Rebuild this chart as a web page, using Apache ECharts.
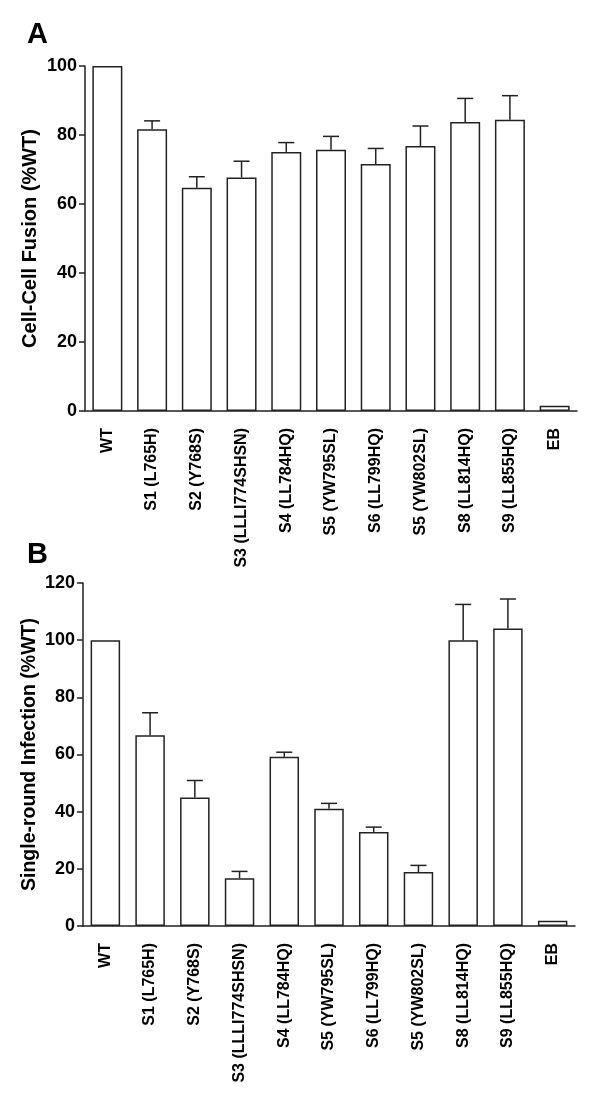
<!DOCTYPE html>
<html>
<head>
<meta charset="utf-8">
<script src="https://cdn.jsdelivr.net/npm/echarts@6/dist/echarts.min.js"></script>
<style>
html,body{margin:0;padding:0;background:#fff;}
#chart{width:600px;height:1111px;}
</style>
</head>
<body>
<div id="chart"></div>
<script>
const categories = ['WT','S1 (L765H)','S2 (Y768S)','S3 (LLLI774SHSN)','S4 (LL784HQ)','S5 (YW795SL)','S6 (LL799HQ)','S5 (YW802SL)','S8 (LL814HQ)','S9 (LL855HQ)','EB'];
const fusionMean = [100, 81.7, 64.7, 67.7, 75.1, 75.7, 71.6, 76.8, 83.8, 84.4, 1.5];
const fusionErrTop = [null, 84.1, 67.9, 72.4, 77.8, 79.6, 76.1, 82.6, 90.6, 91.4, null];
const infectionMean = [100, 66.7, 45.0, 16.7, 59.2, 41.0, 32.9, 18.9, 100, 104.1, 1.8];
const infectionErrTop = [null, 74.6, 50.9, 19.1, 60.8, 42.9, 34.6, 21.2, 112.5, 114.4, null];
const fusionTicks = {min: 0, max: 100, interval: 20};
const infectionTicks = {min: 0, max: 120, interval: 20};

const FONT = '"Liberation Sans", Arial, Helvetica, sans-serif';
const INK = '#222';

function errorSeries(idx, means, tops) {
  const data = categories.map((c, i) => [i, means[i], tops[i]]).filter(d => d[2] != null);
  return {
    type: 'custom',
    xAxisIndex: idx, yAxisIndex: idx,
    z: 1,
    data: data,
    renderItem: function (params, api) {
      const x = api.value(0);
      const lo = api.coord([x, api.value(1)]);
      const hi = api.coord([x, api.value(2)]);
      const hw = 8;
      return {
        type: 'group',
        children: [
          {type: 'line', shape: {x1: lo[0], y1: lo[1], x2: hi[0], y2: hi[1]}, style: {stroke: INK, lineWidth: 1.5}},
          {type: 'line', shape: {x1: hi[0] - hw, y1: hi[1], x2: hi[0] + hw, y2: hi[1]}, style: {stroke: INK, lineWidth: 1.5}}
        ]
      };
    }
  };
}

function xAxis(idx) {
  return {
    type: 'category', gridIndex: idx, data: categories,
    axisLine: {lineStyle: {color: INK, width: 1.5}},
    axisTick: {alignWithLabel: true, length: 7, lineStyle: {color: INK, width: 1.5}},
    axisLabel: {rotate: 90, margin: 17, color: '#000', fontFamily: FONT, fontWeight: 'bold', fontSize: 16, interval: 0}
  };
}
function yAxis(idx, ticks, name, gap, nameSize) {
  return {
    type: 'value', gridIndex: idx, min: ticks.min, max: ticks.max, interval: ticks.interval,
    name: name, nameLocation: 'middle', nameRotate: 90, nameGap: gap, nameMoveOverlap: false,
    nameTextStyle: {color: '#000', fontFamily: FONT, fontWeight: 'bold', fontSize: nameSize},
    splitLine: {show: false},
    axisLine: {show: true, lineStyle: {color: INK, width: 1.5}},
    axisTick: {show: true, length: 6, lineStyle: {color: INK, width: 1.5}},
    axisLabel: {margin: 8, color: '#000', fontFamily: FONT, fontWeight: 'bold', fontSize: 18}
  };
}
function barSeries(idx, means, w) {
  return {
    type: 'bar', xAxisIndex: idx, yAxisIndex: idx, data: means, barWidth: w, z: 2,
    itemStyle: {color: '#fff', borderColor: INK, borderWidth: 1.5},
    emphasis: {disabled: true}
  };
}

const chart = echarts.init(document.getElementById('chart'), null, {renderer: 'canvas'});
chart.setOption({
  animation: false,
  backgroundColor: '#fff',
  grid: [
    {left: 85, top: 66, width: 492, height: 345},
    {left: 83, top: 583, width: 492, height: 343}
  ],
  xAxis: [xAxis(0), xAxis(1)],
  yAxis: [
    yAxis(0, fusionTicks, 'Cell-Cell Fusion (%WT)', 45, 20),
    yAxis(1, infectionTicks, 'Single-round Infection (%WT)', 43, 19.5)
  ],
  graphic: [
    {type: 'text', left: 27, top: 20, style: {text: 'A', font: 'bold 29px ' + FONT, fill: '#000'}},
    {type: 'text', left: 27, top: 540, style: {text: 'B', font: 'bold 29px ' + FONT, fill: '#000'}}
  ],
  series: [
    errorSeries(0, fusionMean, fusionErrTop),
    barSeries(0, fusionMean, 30),
    errorSeries(1, infectionMean, infectionErrTop),
    barSeries(1, infectionMean, 29.5)
  ]
});
</script>
</body>
</html>
